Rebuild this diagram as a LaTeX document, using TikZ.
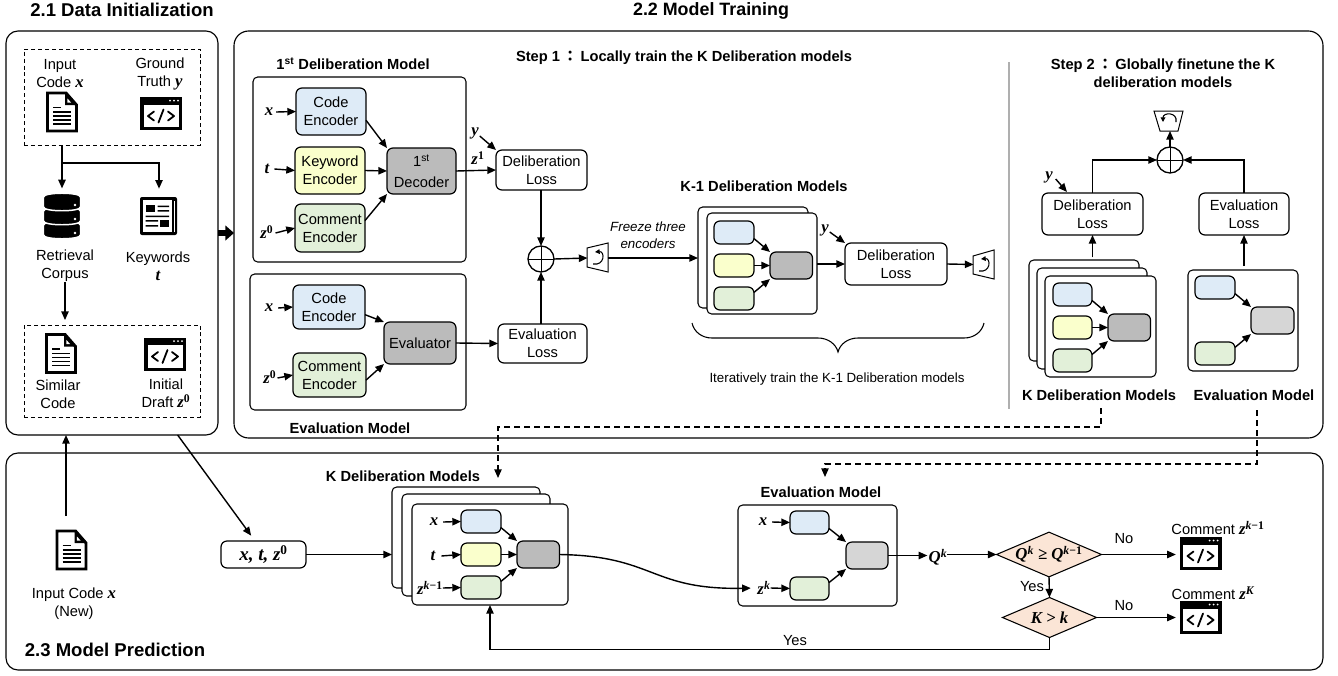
\documentclass[tikz,border=0pt]{standalone}
\usepackage{fontspec}
\setmainfont{Liberation Sans}
\newfontfamily\mvfam[Scale=1.14]{Liberation Serif}
\newfontfamily\cjkfam{Noto Sans CJK TC}
\usetikzlibrary{arrows.meta,shapes.geometric,calc}
\newcommand{\mv}[1]{{\mvfam\bfseries\itshape #1}}
\newcommand{\mvup}[1]{\textsuperscript{\mvfam\bfseries #1}}
\newcommand{\mvit}[1]{\textsuperscript{\mvfam\bfseries\itshape #1}}
\newcommand{\kmo}{\textsuperscript{{\mvfam\bfseries\itshape k}{\mvfam\bfseries −1}}}
\newcommand{\wcolon}{\kern2.2pt{\cjkfam\bfseries：}\kern2.2pt}
\newcommand{\ftxt}{\fontsize{11}{13.5}\selectfont}
\newcommand{\bx}[7]{\node[#2,minimum width={(#5-#3)*0.75pt},minimum height={(#6-#4)*0.75pt}] (#1) at ({(#3+#5)/2},{(#4+#6)/2}) {#7};}
\tikzset{
  x=0.75pt,y=-0.75pt,
  every node/.style={inner sep=0pt,outer sep=0pt,align=center,font=\ftxt},
  ln/.style={line width=1.05pt,black},
  arr/.style={ln,-{Triangle[length=6.5pt,width=5.5pt]}},
  dsh/.style={line width=1pt,black,dash pattern=on 4.5pt off 3pt,-{Triangle[length=6.5pt,width=5.5pt]}},
  big/.style={draw=black,line width=0.85pt,rounded corners=9pt,fill=none},
  panel/.style={draw=black,line width=0.8pt,rounded corners=3.5pt,fill=white},
  dbox/.style={draw=black,line width=0.75pt,dash pattern=on 3pt off 2.2pt},
  lossb/.style={draw=black,line width=0.9pt,rounded corners=4.5pt,fill=white},
  blueb/.style={draw=black,line width=0.9pt,rounded corners=4.5pt,fill={rgb,255:red,222;green,235;blue,247}},
  yelb/.style={draw=black,line width=0.9pt,rounded corners=4.5pt,fill={rgb,255:red,250;green,255;blue,204}},
  greb/.style={draw=black,line width=0.9pt,rounded corners=4.5pt,fill={rgb,255:red,226;green,240;blue,217}},
  grayb/.style={draw=black,line width=0.9pt,rounded corners=4.5pt,fill={rgb,255:red,187;green,187;blue,187}},
  lgrayb/.style={draw=black,line width=0.9pt,rounded corners=4.5pt,fill={rgb,255:red,214;green,214;blue,214}},
  tbold/.style={font=\ftxt\bfseries},
  thead/.style={font=\fontsize{13.4}{16}\selectfont\bfseries},
  dmd/.style={diamond,draw=black,line width=0.8pt,fill={rgb,255:red,251;green,229;blue,214},aspect=2.35},
  plusn/.style={circle,draw=black,line width=1pt,minimum size=19.5pt,fill=white},
  plusl/.style={line width=0.7pt,black},
}
% document icon: centre, name
\newcommand{\docicon}[3]{%
  \node[minimum width=24pt,minimum height=30pt] (#3) at (#1,#2) {};
  \begin{scope}[shift={(#1,#2)}]
    \draw[black,line width=2.2pt,fill=white,line join=miter] (-14.5,-19) -- (4,-19) -- (14.5,-7) -- (14.5,19) -- (-14.5,19) -- cycle;
    \fill[black] (3,-19) -- (3,-7) -- (15,-7) -- cycle;
    \fill[white] (5.4,-13.5) -- (5.4,-9.4) -- (9.2,-9.4) -- cycle;
    \draw[black,line width=1.35pt] (-9,-4.5) -- (-1,-4.5) (-9,0) -- (9,0) (-9,4) -- (9,4) (-9,8) -- (9,8) (-9,12) -- (9,12);
  \end{scope}}
% window icon: centre, name
\newcommand{\winicon}[3]{%
  \node[minimum width=31pt,minimum height=24pt] (#3) at (#1,#2) {};
  \begin{scope}[shift={(#1,#2)}]
    \fill[black] (-21,-16.5) rectangle (21,16.5);
    \fill[white] (-17.5,-9) rectangle (17.5,13.5);
    \fill[white] (9,-13) circle (1) (13,-13) circle (1) (17,-13) circle (1);
    \draw[black,line width=1.35pt,line cap=round,line join=round] (-7,-2) -- (-13,2.5) -- (-7,7) (7,-2) -- (13,2.5) -- (7,7) (2.5,-4) -- (-2.5,9);
  \end{scope}}
% mini model: prefix, x1,x2, y blue top, y yellow top, y green top, dx1, dy1, unused
\newcommand{\minidelib}[9]{%
  \bx{#1-a}{blueb}{#2}{#4}{#3}{#4+23}{}
  \bx{#1-b}{yelb}{#2}{#5}{#3}{#5+23}{}
  \bx{#1-c}{greb}{#2}{#6}{#3}{#6+23}{}
  \bx{#1-d}{grayb}{#7}{#8}{#7+42.5}{#8+27}{}
  \draw[arr] (#1-a.-17) -- (#1-d.north west);
  \draw[arr] (#1-b.east) -- (#1-d.west |- #1-b.east);
  \draw[arr] (#1-c.17) -- (#1-d.south west);
}
\begin{document}
\begin{tikzpicture}
\fill[white] (0,0) rectangle (1338,675);
\useasboundingbox (0,0) rectangle (1338,675);

% titles
\node[thead,font=\fontsize{13.9}{16}\selectfont\bfseries] (t21) at (122,10) {2.1 Data Initialization};
\node[thead] (t22) at (711,11) {2.2 Model Training};
\node[thead,font=\fontsize{13.9}{16}\selectfont\bfseries] (t23) at (115,650) {2.3 Model Prediction};

% large panels
\bx{box21}{big}{6}{31}{218}{435}{}
\bx{box22}{big,rounded corners=11pt}{234}{31}{1323}{438}{}
\bx{box23}{big}{6}{453}{1323}{670}{}
\draw[line width=5pt,black,-{Triangle[length=6.5pt,width=11pt]}] (box21.east) -- (box21.east -| box22.west);

% 2.1
\bx{dtop}{dbox}{24}{49}{200}{145}{}
\bx{dbot}{dbox}{24}{325}{200}{417}{}
\node (linp) at (60,73.5) {Input\\Code \mv{x}};
\node (lgt) at (160,74) {Ground\\Truth \mv{y}};
\docicon{62}{112}{dinp}
\winicon{161}{113.5}{wgt}
% database
\node[minimum width=27pt,minimum height=34pt] (db) at (62,216) {};
\begin{scope}[shift={(62,0)}]
  \foreach \yy in {230,216,202}{
    \draw[white,fill=black,line width=1.1pt] (-18.5,\yy-5) -- (-18.5,\yy+5) .. controls (-18.5,\yy+10) and (18.5,\yy+10) .. (18.5,\yy+5) -- (18.5,\yy-5) .. controls (18.5,\yy-10) and (-18.5,\yy-10) .. cycle;
    \fill[white] (13,\yy+3) circle (1.4);
  }
\end{scope}
% newspaper
\node[minimum width=28pt,minimum height=28pt] (news) at (159,216) {};
\begin{scope}[shift={(159,216)}]
  \fill[black,rounded corners=1.5pt] (-19,-19) rectangle (18,19);
  \fill[white] (-16,-16) rectangle (13,16);
  \fill[white] (14.5,-15) rectangle (16,15.5);
  \fill[black] (-13.5,-11) rectangle (-4,-4);
  \fill[black] (-1.5,-10.5) rectangle (10,-9) (-1.5,-6) rectangle (10,-4.5) (-13.5,-0.5) rectangle (10,1) (-13.5,4) rectangle (-1,5.5) (-13.5,9) rectangle (-1,10.5);
  \fill[black] (1,4) rectangle (10,11);
\end{scope}
\node (lret) at (65,266) {Retrieval\\Corpus};
\node (lkw) at (158,266.5) {Keywords\\\mv{t}};
\docicon{61}{353.5}{dsim}
\winicon{165}{354}{wdraft}
\node (lsim) at (58,394) {Similar\\Code};
\node (ldraft) at (166,393.5) {Initial\\Draft \mv{z}\mvup{0}};
\coordinate (br) at (62,163);
\draw[arr,shorten >=3.7pt] (dtop.south -| db) -- (db.north);
\draw[arr,shorten >=6.5pt] (br) -| (news.north);
\draw[arr,shorten >=3.7pt] (lret.south) -- (dbot.north -| lret.south);

% 2.2 first model
\node[tbold] (t1st) at (353,64) {1\textsuperscript{st} Deliberation Model};
\bx{pA}{panel}{253}{77}{466}{262}{}
\bx{acode}{blueb}{296}{88}{366}{135}{Code\\Encoder}
\bx{akey}{yelb}{295}{147}{365}{194}{Keyword\\Encoder}
\bx{acom}{greb}{295}{204}{365}{252}{Comment\\Encoder}
\bx{adec}{grayb}{387}{148}{456}{194}{1\textsuperscript{st}\\[2pt]Decoder}
\node (ax) at (269,112) {\mv{x}};
\node (at) at (267,169) {\mv{t}};
\node (az) at (267,232) {\mv{z}\mvup{0}};
\draw[arr] ($(ax.east)+(3,0)$) -- (acode.west);
\draw[arr] ($(at.east)+(5,0)$) -- (akey.west);
\draw[arr] ($(az.east)+(2,1)$) -- (acom.west);
\draw[arr] (acode.-14) -- (adec.north west);
\draw[arr] (akey.east) -- (adec.west);
\draw[arr] (acom.12) -- (adec.south west);
\bx{loss1}{lossb}{496}{150}{587}{190}{Deliberation\\Loss}
\draw[arr] (adec.east) -- (loss1.west);
\node (az1) at (478,158) {\mv{z}\mvup{1}};
\node (ay1) at (475,133) {\mv{y}};
\draw[arr] ($(ay1.east)+(1,3)$) -- (loss1.north west);

% evaluation model
\bx{pB}{panel}{250}{274}{466}{410}{}
\bx{bcode}{blueb}{293}{285}{365}{329}{Code\\Encoder}
\bx{bcom}{greb}{293}{353}{366}{397}{Comment\\Encoder}
\bx{beval}{grayb}{384}{322}{456}{364}{Evaluator}
\node (bx) at (269,308) {\mv{x}};
\node (bz) at (270,377) {\mv{z}\mvup{0}};
\draw[arr] ($(bx.east)+(5,0)$) -- (bcode.west);
\draw[arr] ($(bz.east)+(1,1)$) -- (bcom.west);
\draw[arr] (bcode.-12) -- (beval.north west);
\draw[arr] (bcom.-8) -- (beval.south west);
\bx{loss2}{lossb}{498}{324}{587}{363}{Evaluation\\Loss}
\draw[arr] (beval.east) -- (loss2.west);
\node[tbold] (tevalm) at (350,428) {Evaluation Model};
\node[plusn] (plus1) at (541,259) {};
\draw[plusl] (plus1.north) -- (plus1.south) (plus1.west) -- (plus1.east);
\draw[arr] (loss1.south -| plus1) -- (plus1.north);
\draw[arr] (loss2.north -| plus1) -- (plus1.south);
% optimiser 1
\node[minimum width=15pt,minimum height=21pt] (opt1) at (597.5,258) {};
\draw[black,line width=0.75pt,fill=white] (587,248) -- (608,243) -- (608,272) -- (587,267) -- cycle;
\draw[line width=0.8pt,-{Triangle[length=3.5pt,width=3.5pt]}] (593,264) .. controls (605,266) and (605,251) .. (595,252);
\draw[arr] (plus1.east) -- (opt1.west);

\node[font=\fontsize{10}{12.7}\selectfont\itshape] (lfr) at (648,235.5) {Freeze three\\encoders};
\node[font=\fontsize{11}{13}\selectfont\bfseries] (tstep1) at (684,58) {Step 1\wcolon Locally train the K Deliberation models};

% K-1 models
\node[tbold] (tk1) at (764,186) {K-1 Deliberation Models};
\bx{k1back}{panel}{698}{207}{808}{308}{}
\bx{k1front}{panel}{707}{213}{817}{314}{}
\minidelib{km}{714}{754}{221}{254}{287}{770}{252}{}
\draw[arr] (opt1.east) -- (k1back.west |- opt1.east);
\bx{loss3}{lossb}{845}{243}{947}{285}{Deliberation\\Loss}
\draw[arr] (k1front.east |- loss3.west) -- (loss3.west);
\node (ky) at (825,230) {\mv{y}};
\draw[arr] ($(ky.east)+(1,2)$) -- (loss3.north west);
\node[minimum width=15pt,minimum height=20pt] (opt2) at (983.5,264.5) {};
\draw[black,line width=0.75pt,fill=white] (973,256) -- (994,250) -- (994,279) -- (973,274) -- cycle;
\draw[line width=0.8pt,-{Triangle[length=3.5pt,width=3.5pt]}] (979,271) .. controls (991,273) and (991,258) .. (981,259);
\draw[arr] (loss3.east) -- (opt2.west);
\coordinate (brl) at (692,323);
\coordinate (brr) at (984,323);
\draw[line width=0.8pt] (brl) .. controls (694,332) and (702,338) .. (712,338) -- (818,338) .. controls (828,338) and (836,344) .. (838,352) .. controls (840,344) and (848,338) .. (858,338) -- (964,338) .. controls (974,338) and (982,332) .. (brr);
\node[font=\fontsize{10}{12}\selectfont] (lit) at (837,379) {Iteratively train the K-1 Deliberation models};

% separator
\coordinate (seps) at (1009,62);
\coordinate (sepe) at (1009,409);
\draw[line width=1.5pt,color={rgb,255:red,175;green,175;blue,175}] (seps) -- (sepe);

% Step 2
\node[font=\fontsize{11}{13.5}\selectfont\bfseries] (tstep2) at (1163,73) {Step 2\wcolon Globally finetune the K\\deliberation models};
\node[minimum width=14pt,minimum height=15pt] (opt3) at (1169,121) {};
\draw[black,line width=0.75pt,fill=white] (1154,111) -- (1183,111) -- (1178,131) -- (1160,131) -- cycle;
\draw[line width=0.8pt,-{Triangle[length=3.5pt,width=3.5pt]}] (1176,122) .. controls (1178,112) and (1163,112) .. (1163,122);
\node[plusn] (plus2) at (1170,160) {};
\draw[plusl] (plus2.north) -- (plus2.south) (plus2.west) -- (plus2.east);
\draw[arr] (plus2.north) -- (opt3.south -| plus2);
\bx{loss4}{lossb}{1042}{193}{1143}{235}{Deliberation\\Loss}
\bx{loss5}{lossb}{1199}{193}{1289}{235}{Evaluation\\Loss}
\draw[arr] (loss4.north) |- (plus2.west);
\draw[arr] (loss5.north) |- (plus2.east);
\node (sy) at (1049,177) {\mv{y}};
\draw[arr] ($(sy.east)+(3,2)$) -- ($(loss4.north west)+(25,-1)$);
\bx{s2b}{panel}{1029}{260}{1139}{361}{}
\bx{s2m}{panel}{1037}{268}{1147}{369}{}
\bx{s2f}{panel}{1045}{276}{1156}{377}{}
\minidelib{sd}{1053}{1092}{283}{316}{349}{1108}{314}{}
\draw[arr,shorten <=2pt] (s2b.north -| loss4) -- (loss4.south);
\bx{s2e}{panel}{1188}{270}{1298}{371}{}
\bx{se-a}{blueb}{1195}{276}{1235}{299}{}
\bx{se-c}{greb}{1195}{342}{1235}{365}{}
\bx{se-d}{lgrayb}{1251}{307}{1294}{334}{}
\draw[arr] (se-a.-17) -- (se-d.north west);
\draw[arr] (se-c.17) -- (se-d.south west);
\draw[arr,shorten <=3pt] (s2e.north -| loss5) -- (loss5.south);
\node[tbold] (tkd) at (1099,395) {K Deliberation Models};
\node[tbold] (tem) at (1254,395) {Evaluation Model};

% 2.3
\coordinate (icn) at (66,516);
\docicon{71.5}{550}{dnew}
\draw[arr] (icn) -- (box21.south -| icn);
\node (lnew) at (74,603.5) {Input Code \mv{x}\\(New)};
\bx{xtz}{lossb}{221}{541}{306}{568}{\fontsize{12.5}{14}\selectfont\mv{x, t, z}\mvup{0}}
\draw[arr,shorten >=5pt] (box21.-72.4) -- (xtz.122);

\node[tbold] (tkd2) at (403,476) {K Deliberation Models};
\bx{pb}{panel}{392}{487}{540}{588}{}
\bx{pm}{panel}{402}{494}{550}{596}{}
\bx{pf}{panel}{412}{504}{568}{605}{}
\minidelib{pd}{461}{501}{510}{543}{576}{517}{541}{}
\node (px) at (434,522) {\mv{x}};
\node (pt) at (433,556) {\mv{t}};
\node (pz) at (430,588) {\mv{z}\kmo};
\draw[arr] ($(px.east)+(5,0)$) -- (pd-a.west);
\draw[arr] ($(pt.east)+(6,0)$) -- (pd-b.west);
\draw[arr] (pz.east) -- (pd-c.west);
\draw[arr] (xtz.east) -- (pb.west |- xtz.east);

\node[tbold] (tem2) at (821,492) {Evaluation Model};
\bx{pe}{panel}{738}{505}{897}{606}{}
\bx{pe-a}{blueb}{790}{511}{829}{534}{}
\bx{pe-c}{greb}{790}{577}{829}{600}{}
\bx{pe-d}{lgrayb}{846}{542}{888}{569}{}
\draw[arr] (pe-a.-17) -- (pe-d.north west);
\draw[arr] (pe-c.17) -- (pe-d.south west);
\node (ex) at (763,522) {\mv{x}};
\node (ez) at (764,588) {\mv{z}\mvit{k}};
\draw[arr] ($(ex.east)+(5,0)$) -- (pe-a.west);
\draw[arr] (ez.east) -- (pe-c.west);
\draw[arr,shorten >=5pt] (pd-d.east) .. controls (655,556) and (650,590) .. (ez.west);
\node (qk) at (938,557) {\mv{Q}\mvit{k}};
\draw[arr,shorten >=1pt] (pe-d.east) -- (qk.west |- pe-d.east);
\node[dmd,minimum width=70.5pt,minimum height=30pt] (d1) at (1049,554.5) {\mv{Q}\mvit{k} \mv{≥} \mv{Q}\kmo};
\node[dmd,minimum width=70.5pt,minimum height=30pt] (d2) at (1049.5,617.5) {\mv{K > k}};
\draw[arr] (qk.east |- d1.west) -- (d1.west);
\draw[arr] (d1.south) -- (d2.north);
\node (ly1) at (1032,587) {Yes};
\winicon{1200.5}{553.5}{wc1}
\winicon{1200.5}{617.5}{wc2}
\node (lc1) at (1218,528) {Comment \mv{z}\kmo};
\node (lc2) at (1213,593) {Comment \mv{z}\mvit{K}};
\draw[arr,shorten >=3pt] (d1.east) -- (wc1.west |- d1.east);
\draw[arr,shorten >=3pt] (d2.east) -- (wc2.west |- d2.east);
\node (ln1) at (1124,539) {No};
\node (ln2) at (1124,606) {No};
\node (ly2) at (795,641) {Yes};
\draw[arr] (d2.south) -- ++(0,12) -| (pf.south);

% dashed links
\coordinate (da) at (1101,408);
\coordinate (db2) at (498,478);
\coordinate (dc) at (1257,410);
\coordinate (dd) at (825,477);
\draw[dsh] (da) -- (1101,427) -| (db2);
\draw[dsh] (dc) -- (1257,464) -| (dd);
\end{tikzpicture}
\end{document}
